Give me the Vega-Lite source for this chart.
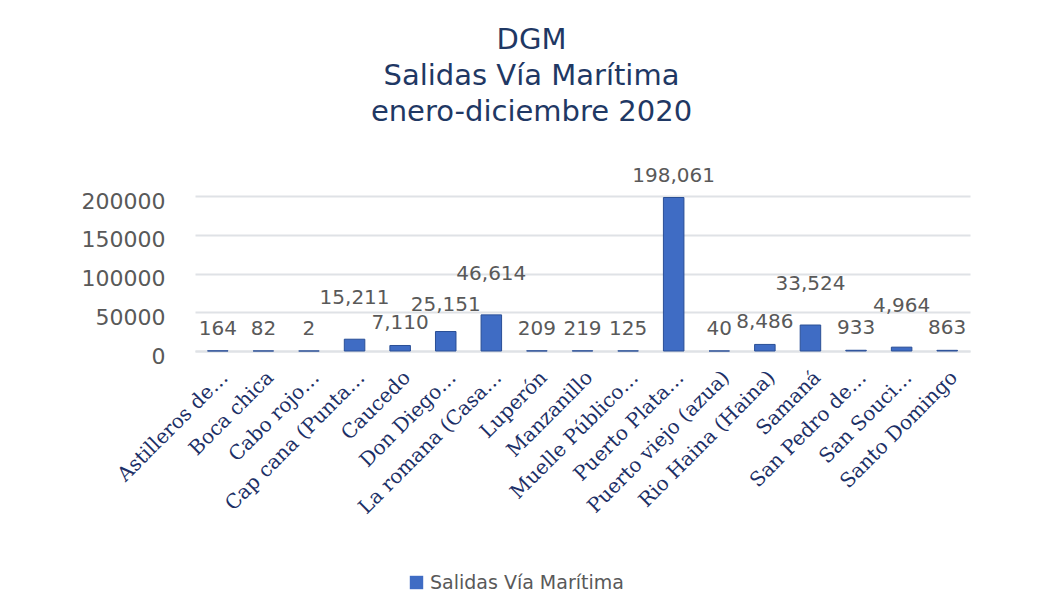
{
  "$schema": "https://vega.github.io/schema/vega-lite/v6.json",
  "autosize": {"type": "none"},
  "width": 775,
  "height": 155,
  "padding": {"left": 195, "top": 196, "right": 77, "bottom": 263},
  "background": "white",
  "config": {"view": {"stroke": null}},
  "title": {
    "text": ["DGM", "Salidas Vía Marítima", "enero-diciembre 2020"],
    "font": "DejaVu Sans",
    "fontSize": 29,
    "fontWeight": "normal",
    "lineHeight": 36,
    "color": "#1f3864",
    "anchor": "middle",
    "dx": -51,
    "offset": 39
  },
  "data": {
    "values": [
      {"puerto": "Astilleros de…", "salidas": 164, "serie": "Salidas Vía Marítima"},
      {"puerto": "Boca chica", "salidas": 82, "serie": "Salidas Vía Marítima"},
      {"puerto": "Cabo rojo…", "salidas": 2, "serie": "Salidas Vía Marítima"},
      {"puerto": "Cap cana (Punta…", "salidas": 15211, "serie": "Salidas Vía Marítima"},
      {"puerto": "Caucedo", "salidas": 7110, "serie": "Salidas Vía Marítima"},
      {"puerto": "Don Diego…", "salidas": 25151, "serie": "Salidas Vía Marítima"},
      {"puerto": "La romana (Casa…", "salidas": 46614, "serie": "Salidas Vía Marítima"},
      {"puerto": "Luperón", "salidas": 209, "serie": "Salidas Vía Marítima"},
      {"puerto": "Manzanillo", "salidas": 219, "serie": "Salidas Vía Marítima"},
      {"puerto": "Muelle Público…", "salidas": 125, "serie": "Salidas Vía Marítima"},
      {"puerto": "Puerto Plata…", "salidas": 198061, "serie": "Salidas Vía Marítima"},
      {"puerto": "Puerto viejo (azua)", "salidas": 40, "serie": "Salidas Vía Marítima"},
      {"puerto": "Rio Haina (Haina)", "salidas": 8486, "serie": "Salidas Vía Marítima"},
      {"puerto": "Samaná", "salidas": 33524, "serie": "Salidas Vía Marítima"},
      {"puerto": "San Pedro de…", "salidas": 933, "serie": "Salidas Vía Marítima"},
      {"puerto": "San Souci…", "salidas": 4964, "serie": "Salidas Vía Marítima"},
      {"puerto": "Santo Domingo", "salidas": 863, "serie": "Salidas Vía Marítima"}
    ]
  },
  "encoding": {
    "x": {
      "field": "puerto",
      "type": "nominal",
      "sort": null,
      "scale": {"paddingInner": 0.55, "paddingOuter": 0.275},
      "axis": {
        "title": null,
        "labelAngle": -45,
        "labelFont": "DejaVu Serif",
        "labelFontSize": 20,
        "labelColor": "#1c2f66",
        "labelPadding": 16,
        "labelOffset": 0,
        "labelLimit": 300,
        "ticks": false,
        "domain": true,
        "domainColor": "#dfe2e6",
        "domainWidth": 2
      }
    },
    "y": {
      "field": "salidas",
      "type": "quantitative",
      "scale": {"domain": [0, 200000]},
      "axis": {
        "title": null,
        "values": [0, 50000, 100000, 150000, 200000],
        "format": "d",
        "labelFont": "DejaVu Sans",
        "labelFontSize": 22,
        "labelColor": "#595959",
        "labelPadding": 30,
        "labelOffset": 5,
        "ticks": false,
        "domain": false,
        "gridColor": "#dfe2e6",
        "gridWidth": 2
      }
    }
  },
  "layer": [
    {
      "mark": {"type": "bar", "stroke": "#2a4f96", "strokeWidth": 1},
      "encoding": {
        "color": {
          "field": "serie",
          "type": "nominal",
          "scale": {"range": ["#3f6cc4"]},
          "legend": {
            "title": null,
            "orient": "none",
            "legendX": 212,
            "legendY": 377,
            "symbolType": "square",
            "symbolSize": 180,
            "symbolStrokeWidth": 0,
            "labelFont": "DejaVu Sans",
            "labelFontSize": 19,
            "labelColor": "#595959",
            "labelOffset": 4,
            "labelLimit": 400
          }
        }
      }
    },
    {
      "transform": [{"filter": {"not": {"field": "puerto", "oneOf": ["Cap cana (Punta…", "Don Diego…", "La romana (Casa…", "Samaná", "San Souci…"]}}}],
      "mark": {
        "type": "text",
        "font": "DejaVu Sans",
        "fontSize": 20,
        "color": "#595959",
        "baseline": "bottom",
        "dy": -12
      },
      "encoding": {
        "text": {"field": "salidas", "type": "quantitative", "format": ","}
      }
    },
    {
      "transform": [{"filter": {"field": "puerto", "oneOf": ["Cap cana (Punta…", "La romana (Casa…", "Samaná", "San Souci…"]}}],
      "mark": {
        "type": "text",
        "font": "DejaVu Sans",
        "fontSize": 20,
        "color": "#595959",
        "baseline": "bottom",
        "dy": -31
      },
      "encoding": {
        "text": {"field": "salidas", "type": "quantitative", "format": ","}
      }
    },
    {
      "transform": [{"filter": {"field": "puerto", "equal": "Don Diego…"}}],
      "mark": {
        "type": "text",
        "font": "DejaVu Sans",
        "fontSize": 20,
        "color": "#595959",
        "baseline": "bottom",
        "dy": -17
      },
      "encoding": {
        "text": {"field": "salidas", "type": "quantitative", "format": ","}
      }
    }
  ]
}
